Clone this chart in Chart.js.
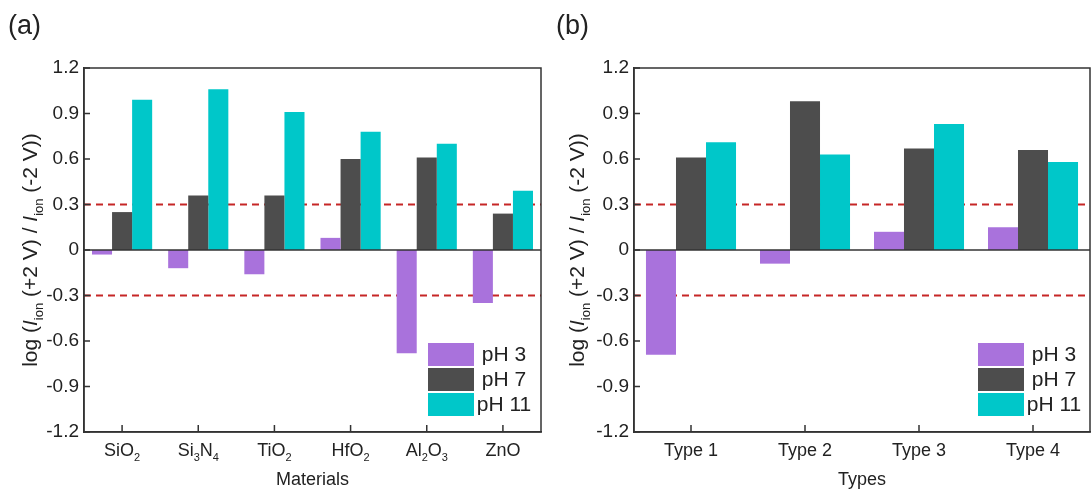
<!DOCTYPE html>
<html>
<head>
<meta charset="utf-8">
<script src="https://cdn.jsdelivr.net/npm/chart.js@4/dist/chart.umd.min.js"></script>
<style>
  html, body { margin: 0; padding: 0; background: #fff; }
  #wrap { position: relative; width: 1091px; height: 492px; }
  .panel { position: absolute; top: 0; height: 492px; }
</style>
</head>
<body>
<div id="wrap">
  <div class="panel" style="left:0;width:545px"><canvas id="chartA" width="545" height="492"></canvas></div>
  <div class="panel" style="left:545px;width:546px"><canvas id="chartB" width="546" height="492"></canvas></div>
</div>
<script>
// (a) rectification by membrane material
const materials = ['SiO_{2}', 'Si_{3}N_{4}', 'TiO_{2}', 'HfO_{2}', 'Al_{2}O_{3}', 'ZnO'];
const matPH3 = [-0.03, -0.12, -0.16, 0.08, -0.68, -0.35];
const matPH7 = [0.25, 0.36, 0.36, 0.60, 0.61, 0.24];
const matPH11 = [0.99, 1.06, 0.91, 0.78, 0.70, 0.39];

// (b) rectification by device type
const types = ['Type 1', 'Type 2', 'Type 3', 'Type 4'];
const typePH3 = [-0.69, -0.09, 0.12, 0.15];
const typePH7 = [0.61, 0.98, 0.67, 0.66];
const typePH11 = [0.71, 0.63, 0.83, 0.58];

const seriesNames = ['pH 3', 'pH 7', 'pH 11'];
const yTicks = [-1.2, -0.9, -0.6, -0.3, 0, 0.3, 0.6, 0.9, 1.2];
const thresholds = [0.3, -0.3];

const yTitle = 'log (*I*_{ion} (+2 V) / *I*_{ion} (-2 V))';
const FONT = "'Liberation Sans', Arial, sans-serif";
const colors = ['#a972dc', '#4d4d4d', '#00c7c9'];
const AXIS = '#333333';

// split "text_{sub}*italic*" into styled runs
function parseRich(str) {
  const parts = str.split(/(_\{[^}]*\}|\*[^*]*\*)/).filter(s => s.length);
  return parts.map(p => {
    if (p.startsWith('_{')) return { t: p.slice(2, -1), sub: true };
    if (p.startsWith('*')) return { t: p.slice(1, -1), it: true };
    return { t: p };
  });
}

function runFont(r, size) {
  const s = r.sub ? Math.round(size * 0.62) : size;
  return (r.it ? 'italic ' : '') + s + 'px ' + FONT;
}

// draw centred rich text with baseline at y
function drawRich(ctx, str, x, y, size) {
  const runs = parseRich(str);
  let total = 0;
  runs.forEach(r => { ctx.font = runFont(r, size); r.w = ctx.measureText(r.t).width; total += r.w; });
  let cx = x - total / 2;
  ctx.textAlign = 'left';
  ctx.textBaseline = 'alphabetic';
  runs.forEach(r => {
    ctx.font = runFont(r, size);
    ctx.fillText(r.t, cx, y + (r.sub ? size * 0.28 : 0));
    cx += r.w;
  });
}

const decorPlugin = {
  id: 'decor',
  beforeDatasetsDraw(chart) {
    const { ctx, chartArea: a, scales: { y } } = chart;
    ctx.save();
    ctx.strokeStyle = '#c62626';
    ctx.lineWidth = 2;
    ctx.setLineDash([7, 5]);
    thresholds.forEach(v => {
      const py = y.getPixelForValue(v);
      ctx.beginPath();
      ctx.moveTo(a.left, py);
      ctx.lineTo(a.right, py);
      ctx.stroke();
    });
    ctx.restore();
  },
  afterDatasetsDraw(chart, args, opts) {
    const { ctx, chartArea: a, scales: { x, y } } = chart;
    ctx.save();
    ctx.strokeStyle = AXIS;
    ctx.lineWidth = 1.5;
    // zero line
    const y0 = y.getPixelForValue(0);
    ctx.beginPath();
    ctx.moveTo(a.left, y0);
    ctx.lineTo(a.right, y0);
    ctx.stroke();
    // frame
    ctx.strokeRect(a.left, a.top, a.right - a.left, a.bottom - a.top);
    // inward ticks
    ctx.beginPath();
    yTicks.forEach(v => {
      const py = y.getPixelForValue(v);
      ctx.moveTo(a.left, py);
      ctx.lineTo(a.left + 6, py);
    });
    chart.data.labels.forEach((l, i) => {
      const px = x.getPixelForValue(i);
      ctx.moveTo(px, a.bottom);
      ctx.lineTo(px, a.bottom - 7);
    });
    ctx.stroke();

    ctx.fillStyle = '#222';
    // category labels
    chart.data.labels.forEach((l, i) => {
      drawRich(ctx, l, x.getPixelForValue(i), a.bottom + 24, 18);
    });
    // x title
    drawRich(ctx, opts.xTitle, (a.left + a.right) / 2, a.bottom + 53, 18);
    // y title
    ctx.save();
    ctx.translate(opts.yTitleX, (a.top + a.bottom) / 2);
    ctx.rotate(-Math.PI / 2);
    drawRich(ctx, yTitle, 0, 8, 21);
    ctx.restore();
    // panel label
    ctx.font = '27px ' + FONT;
    ctx.textAlign = 'left';
    ctx.textBaseline = 'middle';
    ctx.fillText(opts.panel, opts.panelX, 27);

    // legend
    chart.data.datasets.forEach((ds, i) => {
      const by = opts.legendY + i * 25;
      ctx.fillStyle = ds.backgroundColor;
      ctx.fillRect(opts.legendX, by, 46, 23);
      ctx.fillStyle = '#222';
      ctx.font = '21px ' + FONT;
      ctx.textAlign = 'center';
      ctx.textBaseline = 'middle';
      ctx.fillText(ds.label, opts.legendX + 76, by + 12);
    });
    ctx.restore();
  }
};

function makeChart(id, labels, s3, s7, s11, cfg) {
  const values = [s3, s7, s11];
  return new Chart(document.getElementById(id).getContext('2d'), {
    type: 'bar',
    data: {
      labels: labels,
      datasets: values.map((v, i) => ({
        label: seriesNames[i],
        data: v,
        backgroundColor: colors[i],
        borderWidth: 0,
        categoryPercentage: 0.79,
        barPercentage: 1.0
      }))
    },
    options: {
      responsive: false,
      animation: false,
      layout: { padding: { top: 68, right: cfg.padRight, left: 0, bottom: 0 } },
      plugins: {
        legend: { display: false },
        tooltip: { enabled: false },
        decor: cfg
      },
      scales: {
        x: {
          grid: { display: false, drawTicks: false },
          border: { display: true, color: AXIS, width: 1.5 },
          ticks: { display: false },
          afterFit(scale) { scale.height = 60; }
        },
        y: {
          min: -1.2,
          max: 1.2,
          grid: { display: false, drawTicks: false },
          border: { display: true, color: AXIS, width: 1.5 },
          afterBuildTicks(scale) { scale.ticks = yTicks.map(v => ({ value: v })); },
          ticks: {
            color: '#222',
            padding: 5,
            font: { family: FONT, size: 19 },
            callback: v => (Math.abs(v) < 1e-9 ? '0' : v.toFixed(1))
          },
          afterFit(scale) { scale.width = cfg.yWidth; }
        }
      }
    },
    plugins: [decorPlugin]
  });
}

makeChart('chartA', materials, matPH3, matPH7, matPH11, {
  yWidth: 84, padRight: 4, xTitle: 'Materials', yTitleX: 29,
  panel: '(a)', panelX: 8, legendX: 428, legendY: 343
});
makeChart('chartB', types, typePH3, typePH7, typePH11, {
  yWidth: 89, padRight: 1, xTitle: 'Types', yTitleX: 31,
  panel: '(b)', panelX: 11, legendX: 433, legendY: 343
});
</script>
</body>
</html>
